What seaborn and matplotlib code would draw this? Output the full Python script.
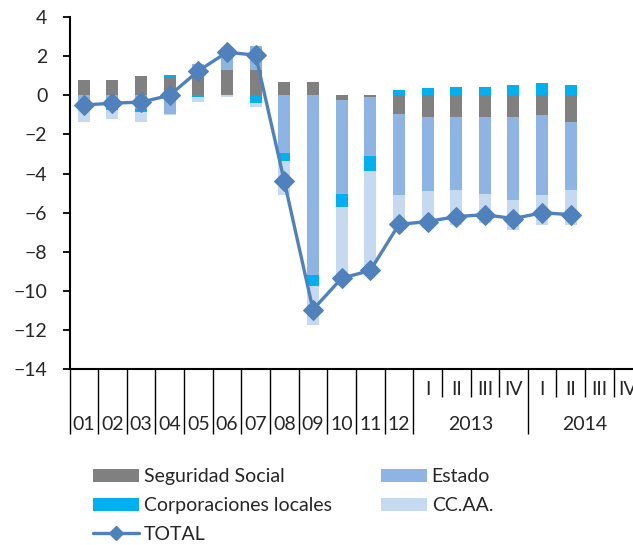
import numpy as np
import pandas as pd
import matplotlib
matplotlib.use("Agg")
import matplotlib.pyplot as plt
import matplotlib.transforms as mtransforms
from matplotlib.patches import Patch
from matplotlib.lines import Line2D
import seaborn as sns

# Categories: years 2001-2012, then quarters of 2013 and 2014
years_short = ["01", "02", "03", "04", "05", "06", "07", "08", "09", "10", "11", "12"]
quarters = ["I", "II", "III", "IV", "I", "II", "III", "IV"]
quarter_years = ["2013", "2014"]

nan = np.nan
seg_social = [0.78, 0.78, 0.98, 0.95, 1.29, 1.29, 1.29, 0.69, 0.69, -0.26, -0.08, -0.94,
              -1.13, -1.13, -1.13, -1.13, -1.01, -1.39, nan, nan]
estado = [-0.64, -0.59, -0.69, -0.96, 0.29, 1.05, 1.22, -2.94, -9.19, -4.79, -3.02, -4.16,
          -3.77, -3.72, -3.89, -4.23, -4.09, -3.46, nan, nan]
corporaciones = [-0.10, -0.17, -0.15, 0.10, -0.08, 0.0, -0.38, -0.41, -0.56, -0.65, -0.76, 0.27,
                 0.35, 0.43, 0.43, 0.52, 0.61, 0.52, nan, nan]
ccaa = [-0.63, -0.46, -0.53, -0.06, -0.25, -0.10, -0.24, -1.75, -2.00, -3.60, -5.08, -1.74,
        -1.90, -1.79, -1.53, -1.50, -1.54, -1.79, nan, nan]
total = [-0.50, -0.40, -0.35, 0.00, 1.25, 2.20, 2.05, -4.40, -10.95, -9.35, -8.95, -6.60,
         -6.45, -6.20, -6.10, -6.30, -6.00, -6.10, nan, nan]

series_names = ["Seguridad Social", "Estado", "Corporaciones locales", "CC.AA."]
series_values = [seg_social, estado, corporaciones, ccaa]
series_colors = ["#808080", "#8DB4E2", "#00B0F0", "#C5D9F1"]
line_color = "#4F81BD"

sns.set_style("white")
plt.rcParams["font.family"] = ["Lato", "DejaVu Sans"]
text_color = "#262626"

fig = plt.figure(figsize=(6.33, 5.45), dpi=100)
ax = fig.add_axes([0.1098, 0.3224, 0.905, 0.6464])

n = len(years_short) + len(quarters)
x = np.arange(n)

# Diverging stacked bars: positives stack upward, negatives downward
pos_base = np.zeros(n)
neg_base = np.zeros(n)
for name, vals, col in zip(series_names, series_values, series_colors):
    v = np.nan_to_num(np.asarray(vals, dtype=float))
    bottoms = np.where(v >= 0, pos_base, neg_base)
    ax.bar(x, v, bottom=bottoms, width=0.42, color=col, linewidth=0, zorder=2)
    pos_base = pos_base + np.where(v > 0, v, 0)
    neg_base = neg_base + np.where(v < 0, v, 0)

df_total = pd.DataFrame({"x": x, "total": total}).dropna()
sns.lineplot(data=df_total, x="x", y="total", ax=ax, color=line_color, linewidth=2.4,
             marker="D", markersize=10, markeredgecolor=line_color, zorder=4)

ax.set_xlim(-0.5, n - 0.5)
ax.set_ylim(-14, 4)
ax.set_yticks(np.arange(-14, 5, 2))
ax.set_xlabel("")
ax.set_ylabel("")

for s in ["top", "right"]:
    ax.spines[s].set_visible(False)
for s in ["left", "bottom"]:
    ax.spines[s].set_color("black")
    ax.spines[s].set_linewidth(1.5)

ax.tick_params(axis="y", direction="out", length=5, width=1.3, color="black",
               labelsize=14, labelcolor=text_color, pad=11, left=True)

# Category separators on the x axis: long between years, short between quarters
major_sep = [i - 0.5 for i in range(13)] + [15.5, 19.5]
minor_sep = [12.5, 13.5, 14.5, 16.5, 17.5, 18.5]
ax.set_xticks(major_sep)
ax.set_xticks(minor_sep, minor=True)
ax.tick_params(axis="x", which="major", direction="out", length=47, width=1.0,
               color="black", labelbottom=False, bottom=True)
ax.tick_params(axis="x", which="minor", direction="out", length=20, width=1.0,
               color="black", labelbottom=False, bottom=True)

trans = mtransforms.blended_transform_factory(ax.transData, ax.transAxes)
for i, lab in enumerate(years_short):
    ax.text(i, -0.158, lab, transform=trans, ha="center", va="center",
            fontsize=14, color=text_color, clip_on=False)
for j, lab in enumerate(quarters):
    ax.text(12 + j, -0.056, lab, transform=trans, ha="center", va="center",
            fontsize=14, color=text_color, clip_on=False)
for k, lab in enumerate(quarter_years):
    ax.text(13.5 + 4 * k, -0.158, lab, transform=trans, ha="center", va="center",
            fontsize=14, color=text_color, clip_on=False)

# Legend below the plot, two columns
h = {name: Patch(facecolor=c, edgecolor="none") for name, c in zip(series_names, series_colors)}
h_total = Line2D([0], [0], color=line_color, linewidth=2.4, marker="D", markersize=7)
handles = [h["Seguridad Social"], h["Corporaciones locales"], h_total, h["Estado"], h["CC.AA."]]
labels = ["Seguridad Social", "Corporaciones locales", "TOTAL", "Estado", "CC.AA."]
fig.legend(handles, labels, loc="upper left", bbox_to_anchor=(0.147, 0.141), ncol=2,
           frameon=False, fontsize=14, handlelength=2.35, handleheight=0.7,
           handletextpad=0.25, columnspacing=2.55, labelspacing=0.62, borderpad=0,
           borderaxespad=0, labelcolor=text_color)

fig.savefig("out.png", dpi=100)
